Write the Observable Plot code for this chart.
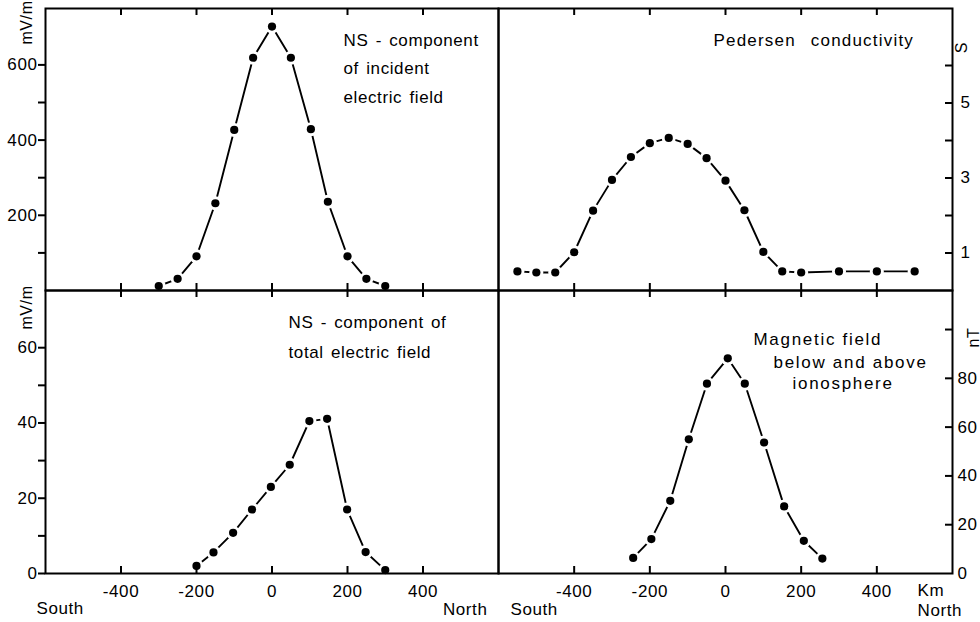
<!DOCTYPE html>
<html>
<head>
<meta charset="utf-8">
<script src="https://cdn.jsdelivr.net/npm/d3@7"></script>
<script src="https://cdn.jsdelivr.net/npm/@observablehq/plot@0.6"></script>
<style>
  body { margin: 0; background: #fff; }
  #chart { position: relative; width: 980px; height: 622px; }
  #chart svg { position: absolute; left: 0; top: 0; }
  #chart svg text { letter-spacing: 0.6px; word-spacing: 2px; }
</style>
</head>
<body>
<div id="chart"></div>
<script>
// ---------- data ----------
const xTicks = [-400, -200, 0, 200, 400];
const compass = ["South", "North"];
const kmUnit = "Km";

// NS-component of incident electric field (mV/m)
const kmIncident = [-300, -250, -200, -150, -100, -50, 0, 50, 103, 148, 200, 250, 300];
const eIncident  = [12, 31, 91, 232, 427, 619, 702, 619, 429, 236, 91, 31, 12];
const incidentTicks  = [100, 200, 300, 400, 500, 600];
const incidentLabels = [200, 400, 600];
const incidentNote = ["NS - component", "of incident", "electric field"];
const incidentUnit = "mV/m";

// Pedersen conductivity (S)
const kmPedersen = [-550, -500, -450, -400, -350, -300, -250, -200, -150, -100, -50, 0, 50, 100, 150, 200, 300, 400, 500];
const sigmaP     = [0.51, 0.48, 0.48, 1.02, 2.13, 2.95, 3.56, 3.93, 4.07, 3.91, 3.53, 2.93, 2.14, 1.03, 0.51, 0.48, 0.51, 0.51, 0.51];
const pedersenTicks  = [1, 2, 3, 4, 5, 6];
const pedersenLabels = [1, 3, 5];
const pedersenNote = ["Pedersen conductivity"];
const pedersenUnit = "S";

// NS-component of total electric field (mV/m)
const kmTotal = [-200, -155, -103, -53, -3, 47, 99, 146, 199, 248, 300];
const eTotal  = [2.0, 5.6, 10.8, 17.0, 23.0, 28.9, 40.5, 41.1, 17.0, 5.7, 0.9];
const totalTicks  = [0, 10, 20, 30, 40, 50, 60];
const totalLabels = [0, 20, 40, 60];
const totalNote = ["NS - component of", "total electric field"];
const totalUnit = "mV/m";

// Magnetic field below and above ionosphere (nT)
const kmMagnetic = [-244, -196, -146, -97, -49, 6, 51, 102, 155, 207, 256];
const bMagnetic  = [6.4, 14.1, 29.8, 55.0, 77.8, 88.2, 77.8, 53.7, 27.5, 13.4, 6.1];
const magneticTicks  = [20, 40, 60, 80, 100];
const magneticLabels = [0, 20, 40, 60, 80];
const magneticNote = ["Magnetic field", "below and above", "ionosphere"];
const magneticUnit = "nT";

// ---------- layout ----------
const W = 980, H = 622;
const FONT = "'Liberation Sans', Arial, sans-serif";
const fmt = d => (d < 0 ? "-" + Math.abs(d) : String(d));

function build(o) {
  const w = W - o.ml - o.mr, h = H - o.mt - o.mb;
  const data = o.xs.map((x, i) => ({x, y: o.ys[i]}));
  const marks = [
    Plot.line(data, {x: "x", y: "y", stroke: "black", strokeWidth: 1.9}),
    Plot.dot(data, {x: "x", y: "y", r: 7, fill: "white"}),
    Plot.dot(data, {x: "x", y: "y", r: 4.1, fill: "black"}),
    Plot.frame({stroke: "black", strokeWidth: 2}),
    Plot.ruleX(xTicks, {insetBottom: h - 7, strokeWidth: 2}),
    Plot.ruleX(xTicks, {insetTop: h - 7, strokeWidth: 2})
  ];
  if (o.side === "left") {
    marks.push(Plot.axisY({anchor: "left", ticks: o.yTicks, tickSize: 7, tickPadding: 1, strokeWidth: 2,
      tickFormat: d => (o.yLabels.includes(d) ? fmt(d) : ""), label: null}));
    marks.push(Plot.text([o.unit], {frameAnchor: "top-left", dx: o.unitDx, dy: o.unitDy, rotate: -90,
      textAnchor: "middle", lineAnchor: "middle", fontSize: 16}));
  } else {
    marks.push(Plot.ruleY(o.yTicks, {insetLeft: w - 7, strokeWidth: 2}));
    marks.push(Plot.axisY({anchor: "right", ticks: o.yLabels, tickSize: 0, tickPadding: o.yPad,
      tickFormat: fmt, label: null}));
    marks.push(Plot.text([o.unit], {frameAnchor: "top-right", dx: o.unitDx, dy: o.unitDy, rotate: -90,
      textAnchor: "middle", lineAnchor: "middle", fontSize: 16}));
  }
  if (o.bottom) {
    marks.push(Plot.axisX({anchor: "bottom", ticks: xTicks, tickSize: 0, tickPadding: 11, tickFormat: fmt, label: null}));
  }
  o.note.forEach((t, i) => {
    marks.push(Plot.text([t], {frameAnchor: "top-left", dx: o.noteDx[i], dy: o.noteDy[i],
      textAnchor: "start", lineAnchor: "bottom", fontSize: 17}));
  });
  if (o.extra) marks.push(...o.extra);
  return Plot.plot({
    width: W, height: H,
    marginLeft: o.ml, marginRight: o.mr, marginTop: o.mt, marginBottom: o.mb,
    x: {domain: [-600, 600], ...(o.bottom ? {} : {axis: null})},
    y: {domain: o.yDomain},
    style: {background: "transparent", fontFamily: FONT, fontSize: "17px", color: "black", overflow: "visible"},
    marks
  });
}

const chart = document.getElementById("chart");

chart.append(build({
  ml: 45, mr: 482, mt: 8, mb: 332, side: "left", bottom: false,
  xs: kmIncident, ys: eIncident, yDomain: [0, 750],
  yTicks: incidentTicks, yLabels: incidentLabels,
  unit: incidentUnit, unitDx: -19, unitDy: 14,
  note: incidentNote, noteDx: [298, 298, 298], noteDy: [37, 65, 94]
}));

chart.append(build({
  ml: 498, mr: 28, mt: 8, mb: 332, side: "right", bottom: false, yPad: 8,
  xs: kmPedersen, ys: sigmaP, yDomain: [0, 7.52],
  yTicks: pedersenTicks, yLabels: pedersenLabels,
  unit: pedersenUnit, unitDx: 9, unitDy: 39,
  note: pedersenNote, noteDx: [215], noteDy: [37]
}));

chart.append(build({
  ml: 45, mr: 482, mt: 290, mb: 49, side: "left", bottom: true,
  xs: kmTotal, ys: eTotal, yDomain: [0, 75.2],
  yTicks: totalTicks, yLabels: totalLabels,
  unit: totalUnit, unitDx: -19, unitDy: 17,
  note: totalNote, noteDx: [243, 243], noteDy: [37, 67],
  extra: [
    Plot.text([compass[0]], {frameAnchor: "bottom-left", dx: -9, dy: 40, textAnchor: "start", lineAnchor: "bottom"}),
    Plot.text([compass[1]], {frameAnchor: "bottom-right", dx: -11, dy: 41, textAnchor: "end", lineAnchor: "bottom"})
  ]
}));

chart.append(build({
  ml: 498, mr: 28, mt: 290, mb: 49, side: "right", bottom: true, yPad: 5,
  xs: kmMagnetic, ys: bMagnetic, yDomain: [0, 116],
  yTicks: magneticTicks, yLabels: magneticLabels,
  unit: magneticUnit, unitDx: 21, unitDy: 47,
  note: magneticNote, noteDx: [255, 275, 294], noteDy: [54, 77, 98],
  extra: [
    Plot.text([compass[0]], {frameAnchor: "bottom-left", dx: 12, dy: 41, textAnchor: "start", lineAnchor: "bottom"}),
    Plot.text([kmUnit], {frameAnchor: "bottom-right", dx: -35, dy: 22, textAnchor: "start", lineAnchor: "bottom"}),
    Plot.text([compass[1]], {frameAnchor: "bottom-right", dx: -35, dy: 42, textAnchor: "start", lineAnchor: "bottom"})
  ]
}));

// wider letter spacing for some annotations, as in the original lettering
d3.selectAll("#chart svg text")
  .filter(function () { return magneticNote.includes(this.textContent); })
  .style("letter-spacing", "1.7px").style("word-spacing", "0px");
d3.selectAll("#chart svg text")
  .filter(function () { return pedersenNote.includes(this.textContent); })
  .style("letter-spacing", "1.2px").style("word-spacing", "9px");
</script>
</body>
</html>
